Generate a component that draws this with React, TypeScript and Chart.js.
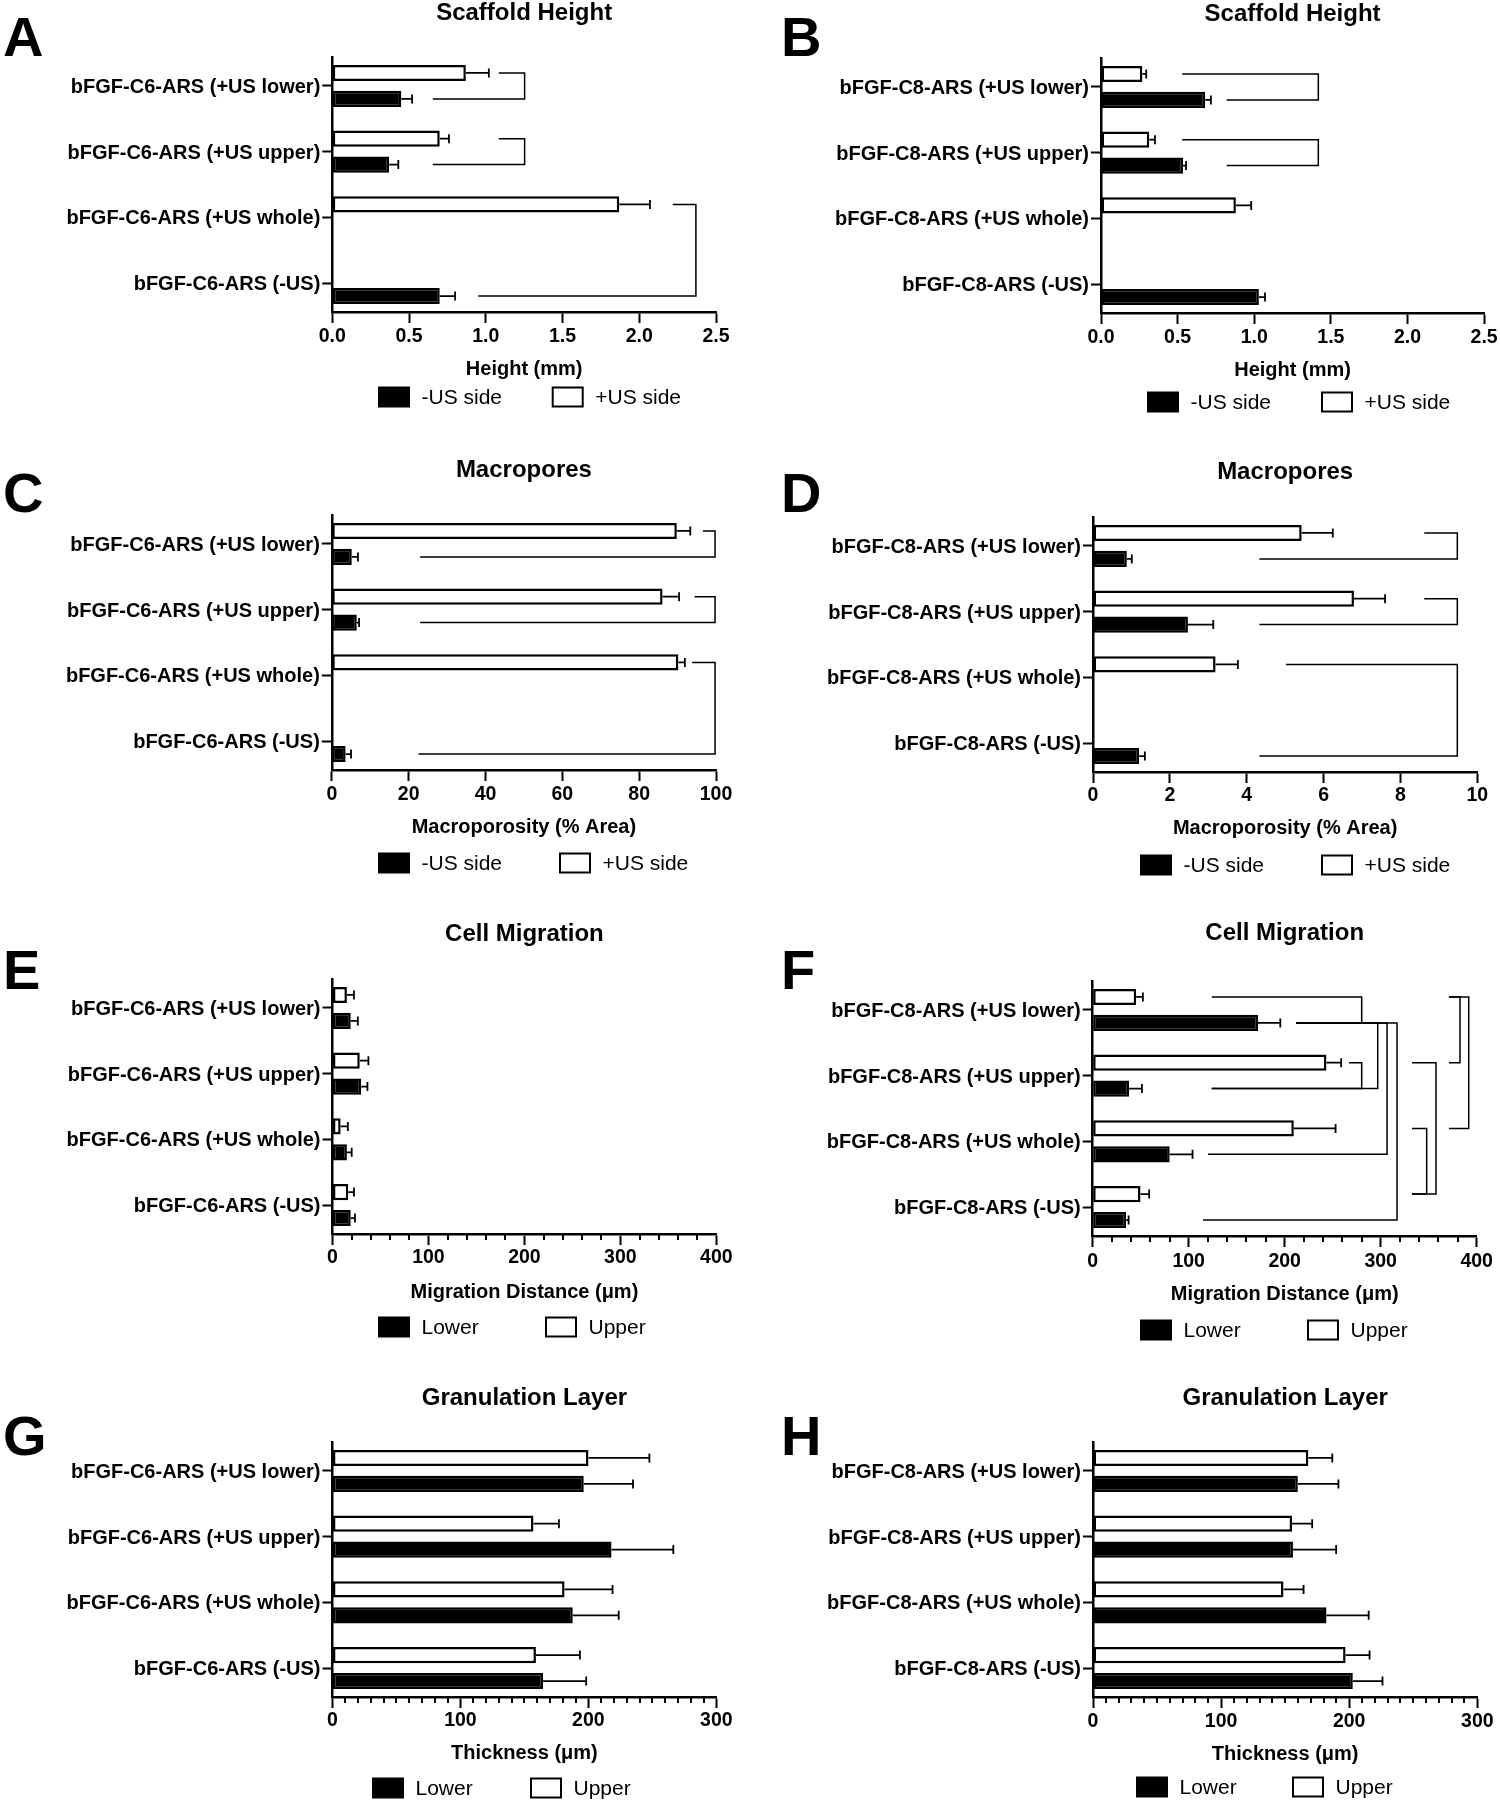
import React, { useEffect, useRef } from 'react';
import { Chart, registerables } from 'chart.js';

Chart.register(...registerables);

const FONT = '"Liberation Sans", Arial, Helvetica, sans-serif';
Chart.defaults.font.family = FONT;
Chart.defaults.color = '#000';

// ---------------- categories & series names ----------------
const catsC6 = ['bFGF-C6-ARS (+US lower)', 'bFGF-C6-ARS (+US upper)', 'bFGF-C6-ARS (+US whole)', 'bFGF-C6-ARS (-US)'];
const catsC8 = ['bFGF-C8-ARS (+US lower)', 'bFGF-C8-ARS (+US upper)', 'bFGF-C8-ARS (+US whole)', 'bFGF-C8-ARS (-US)'];
const sideNames = ['+US side', '-US side'];
const layerNames = ['Upper', 'Lower'];

// ---------------- A: Scaffold height C6 (mm) ----------------
const heightC6Plus = [0.87, 0.70, 1.87, null];
const heightC6PlusErr = [0.15, 0.06, 0.20, null];
const heightC6Minus = [0.45, 0.37, null, 0.70];
const heightC6MinusErr = [0.07, 0.06, null, 0.10];
// [cat1, series1, armStart1, cat2, series2, armStart2, bracketX]
const heightC6Brackets = [
  [0, 0, 1.085, 0, 1, 0.655, 1.253],
  [1, 0, 1.085, 1, 1, 0.655, 1.253],
  [2, 0, 2.218, 3, 1, 0.951, 2.369],
];

// ---------------- B: Scaffold height C8 (mm) ----------------
const heightC8Plus = [0.27, 0.315, 0.88, null];
const heightC8PlusErr = [0.025, 0.037, 0.10, null];
const heightC8Minus = [0.68, 0.535, null, 1.03];
const heightC8MinusErr = [0.037, 0.02, null, 0.04];
const heightC8Brackets = [
  [0, 0, 0.53, 0, 1, 0.82, 1.418],
  [1, 0, 0.53, 1, 1, 0.82, 1.418],
];

// ---------------- C: Macropores C6 (% area) ----------------
const poreC6Plus = [89.8, 86.1, 90.2, null];
const poreC6PlusErr = [3.5, 4.3, 1.7, null];
const poreC6Minus = [5.2, 6.5, null, 3.6];
const poreC6MinusErr = [1.6, 0.6, null, 1.4];
const poreC6Brackets = [
  [0, 0, 96.6, 0, 1, 23.0, 99.75],
  [1, 0, 94.4, 1, 1, 23.0, 99.75],
  [2, 0, 93.8, 3, 1, 22.6, 99.75],
];

// ---------------- D: Macropores C8 (% area) ----------------
const poreC8Plus = [5.43, 6.79, 3.19, null];
const poreC8PlusErr = [0.81, 0.81, 0.58, null];
const poreC8Minus = [0.88, 2.47, null, 1.20];
const poreC8MinusErr = [0.13, 0.66, null, 0.15];
const poreC8Brackets = [
  [0, 0, 8.62, 0, 1, 4.33, 9.48],
  [1, 0, 8.62, 1, 1, 4.33, 9.48],
  [2, 0, 5.02, 3, 1, 4.33, 9.48],
];

// ---------------- E: Cell migration C6 (um) ----------------
const migC6Upper = [15.0, 28.4, 8.5, 16.5];
const migC6UpperErr = [7.4, 9.0, 7.5, 5.9];
const migC6Lower = [19.0, 29.9, 15.0, 19.0];
const migC6LowerErr = [7.4, 6.5, 5.0, 4.4];

// ---------------- F: Cell migration C8 (um) ----------------
const migC8Upper = [45.3, 243.5, 209.5, 49.8];
const migC8UpperErr = [7.0, 15.3, 43.5, 9.0];
const migC8Lower = [172.2, 37.9, 80.2, 34.9];
const migC8LowerErr = [23.2, 13.4, 23.8, 2.5];
const migC8Brackets = [
  [0, 0, 124.0, 0, 1, 211.8, 280.2],
  [1, 0, 267.0, 1, 1, 124.0, 280.2],
  [0, 1, 211.8, 1, 1, 124.0, 296.9],
  [0, 1, 211.8, 2, 1, 120.1, 306.6],
  [0, 1, 211.8, 3, 1, 114.9, 317.0],
  [0, 0, 371.1, 1, 0, 371.1, 382.6],
  [0, 0, 371.1, 2, 0, 371.1, 391.7],
  [1, 0, 332.6, 3, 0, 332.6, 357.6],
  [2, 0, 332.6, 3, 0, 332.6, 347.9],
];

// ---------------- G: Granulation layer C6 (um) ----------------
const granC6Upper = [200.1, 157.1, 181.4, 159.0];
const granC6UpperErr = [47.6, 19.9, 37.5, 34.4];
const granC6Lower = [196.4, 218.1, 187.8, 164.6];
const granC6LowerErr = [38.5, 48.3, 35.9, 33.7];

// ---------------- H: Granulation layer C8 (um) ----------------
const granC8Upper = [168.1, 155.4, 148.7, 197.2];
const granC8UpperErr = [18.7, 15.7, 15.7, 18.7];
const granC8Lower = [159.9, 156.1, 182.3, 202.8];
const granC8LowerErr = [31.7, 33.7, 32.9, 23.2];

// ---------------- x axis ranges ----------------
const heightAxis = { min: 0, max: 2.5, step: 0.5, major: 0.5, decimals: 1 };
const poreC6Axis = { min: 0, max: 100, step: 20, major: 20, decimals: 0 };
const poreC8Axis = { min: 0, max: 10, step: 2, major: 2, decimals: 0 };
const migAxis = { min: 0, max: 400, step: 20, major: 100, decimals: 0 };
const granAxis = { min: 0, max: 300, step: 10, major: 100, decimals: 0 };

// ---------------- page layout (pixel positions of each panel) ----------------
// ox: panel x origin, tc: title centre y, pt: plot top, ay: x-axis y, ax: y-axis x, ar: x-axis right end,
// tk: tick label centre y, xt: axis title centre y, lc: legend centre y, lx1/lx2: legend box left x, lb: letter baseline
const LAYOUT: Record<string, any> = {
  A: { ox: 0, tc: 13, pt: 57, ay: 312, ax: 332.3, ar: 716, tk: 336.5, xt: 369, lc: 397, lx1: 378, lx2: 551.7, lb: 56 },
  B: { ox: 750, tc: 14, pt: 58, ay: 313, ax: 1101, ar: 1485, tk: 338, xt: 370, lc: 402, lx1: 1147, lx2: 1321, lb: 56 },
  C: { ox: 0, tc: 470, pt: 515, ay: 770, ax: 331.8, ar: 716, tk: 795, xt: 827, lc: 863, lx1: 378, lx2: 559, lb: 512 },
  D: { ox: 750, tc: 472, pt: 517, ay: 772, ax: 1093, ar: 1477.3, tk: 796, xt: 828, lc: 865, lx1: 1140, lx2: 1321, lb: 512 },
  E: { ox: 0, tc: 934, pt: 979, ay: 1234, ax: 332.5, ar: 716.3, tk: 1258, xt: 1292, lc: 1327, lx1: 378, lx2: 545, lb: 989 },
  F: { ox: 750, tc: 933, pt: 981, ay: 1236, ax: 1092.7, ar: 1476.7, tk: 1262, xt: 1294, lc: 1330, lx1: 1140, lx2: 1307, lb: 989 },
  G: { ox: 0, tc: 1398, pt: 1442, ay: 1697, ax: 332.5, ar: 716.3, tk: 1721, xt: 1753, lc: 1788, lx1: 372, lx2: 530, lb: 1455 },
  H: { ox: 750, tc: 1398, pt: 1442, ay: 1697, ax: 1093, ar: 1477.3, tk: 1722, xt: 1754, lc: 1787, lx1: 1136, lx2: 1292, lb: 1455 },
};

type Spec = {
  key: string; title: string; cats: string[]; names: string[];
  white: (number | null)[]; whiteErr: (number | null)[];
  black: (number | null)[]; blackErr: (number | null)[];
  xTitle: string; axis: { min: number; max: number; step: number; major: number; decimals: number };
  brackets: number[][];
};

const PANELS: Spec[] = [
  { key: 'A', title: 'Scaffold Height', cats: catsC6, names: sideNames, white: heightC6Plus, whiteErr: heightC6PlusErr, black: heightC6Minus, blackErr: heightC6MinusErr, xTitle: 'Height (mm)', axis: heightAxis, brackets: heightC6Brackets },
  { key: 'B', title: 'Scaffold Height', cats: catsC8, names: sideNames, white: heightC8Plus, whiteErr: heightC8PlusErr, black: heightC8Minus, blackErr: heightC8MinusErr, xTitle: 'Height (mm)', axis: heightAxis, brackets: heightC8Brackets },
  { key: 'C', title: 'Macropores', cats: catsC6, names: sideNames, white: poreC6Plus, whiteErr: poreC6PlusErr, black: poreC6Minus, blackErr: poreC6MinusErr, xTitle: 'Macroporosity (% Area)', axis: poreC6Axis, brackets: poreC6Brackets },
  { key: 'D', title: 'Macropores', cats: catsC8, names: sideNames, white: poreC8Plus, whiteErr: poreC8PlusErr, black: poreC8Minus, blackErr: poreC8MinusErr, xTitle: 'Macroporosity (% Area)', axis: poreC8Axis, brackets: poreC8Brackets },
  { key: 'E', title: 'Cell Migration', cats: catsC6, names: layerNames, white: migC6Upper, whiteErr: migC6UpperErr, black: migC6Lower, blackErr: migC6LowerErr, xTitle: 'Migration Distance (\u03bcm)', axis: migAxis, brackets: [] },
  { key: 'F', title: 'Cell Migration', cats: catsC8, names: layerNames, white: migC8Upper, whiteErr: migC8UpperErr, black: migC8Lower, blackErr: migC8LowerErr, xTitle: 'Migration Distance (\u03bcm)', axis: migAxis, brackets: migC8Brackets },
  { key: 'G', title: 'Granulation Layer', cats: catsC6, names: layerNames, white: granC6Upper, whiteErr: granC6UpperErr, black: granC6Lower, blackErr: granC6LowerErr, xTitle: 'Thickness (\u03bcm)', axis: granAxis, brackets: [] },
  { key: 'H', title: 'Granulation Layer', cats: catsC8, names: layerNames, white: granC8Upper, whiteErr: granC8UpperErr, black: granC8Lower, blackErr: granC8LowerErr, xTitle: 'Thickness (\u03bcm)', axis: granAxis, brackets: [] },
];

const isMajor = (v: number, m: number) => Math.abs(v / m - Math.round(v / m)) < 1e-6;

// Prism-style category spacing: first/last category centre sits 0.44 slot from the axis ends
const categoryInsetPlugin = {
  id: 'categoryInset',
  afterLayout(chart: any) {
    const s = chart.scales.y;
    if (!s) return;
    const n = s.getLabels().length;
    const off = 0.44;
    s._startValue = -off;
    s._valueRange = n - 1 + 2 * off;
  },
};

const errorBarPlugin = {
  id: 'errorBars',
  afterDatasetsDraw(chart: any) {
    const ctx = chart.ctx;
    const xs = chart.scales.x;
    ctx.save();
    ctx.strokeStyle = '#000';
    ctx.lineWidth = 1.8;
    chart.data.datasets.forEach((ds: any, i: number) => {
      const errs = ds.errors;
      if (!errs) return;
      const meta = chart.getDatasetMeta(i);
      meta.data.forEach((el: any, j: number) => {
        const v = ds.data[j];
        const e = errs[j];
        if (v == null || e == null) return;
        const x0 = xs.getPixelForValue(v);
        const x1 = xs.getPixelForValue(v + e);
        const y = el.y;
        ctx.beginPath();
        ctx.moveTo(x0, y);
        ctx.lineTo(x1, y);
        ctx.moveTo(x1, y - 4.5);
        ctx.lineTo(x1, y + 4.5);
        ctx.stroke();
      });
    });
    ctx.restore();
  },
};

const makeBracketPlugin = (list: number[][]) => ({
  id: 'brackets',
  afterDatasetsDraw(chart: any) {
    if (!list.length) return;
    const ctx = chart.ctx;
    const xs = chart.scales.x;
    ctx.save();
    ctx.strokeStyle = '#000';
    ctx.lineWidth = 1.5;
    list.forEach(([c1, s1, a1, c2, s2, a2, xv]) => {
      const y1 = chart.getDatasetMeta(s1).data[c1].y;
      const y2 = chart.getDatasetMeta(s2).data[c2].y;
      const pv = xs.getPixelForValue(xv);
      ctx.beginPath();
      ctx.moveTo(xs.getPixelForValue(a1), y1);
      ctx.lineTo(pv, y1);
      ctx.lineTo(pv, y2);
      ctx.lineTo(xs.getPixelForValue(a2), y2);
      ctx.stroke();
    });
    ctx.restore();
  },
});

const makeMinorTickPlugin = (major: number) => ({
  id: 'minorTicks',
  afterDraw(chart: any) {
    const s = chart.scales.x;
    const ctx = chart.ctx;
    const y0 = chart.chartArea.bottom;
    ctx.save();
    ctx.strokeStyle = '#000';
    ctx.lineWidth = 2;
    s.ticks.forEach((t: any) => {
      if (isMajor(t.value, major)) return;
      const x = Math.round(s.getPixelForValue(t.value));
      ctx.beginPath();
      ctx.moveTo(x, y0);
      ctx.lineTo(x, y0 + 6);
      ctx.stroke();
    });
    ctx.restore();
  },
});

const makeLegendPlugin = (L: any, top: number) => ({
  id: 'panelLegend',
  afterDraw(chart: any) {
    const ctx = chart.ctx;
    const ds = chart.data.datasets;
    const order = [1, 0];
    const xs = [L.lx1 - L.ox + 1, L.lx2 - L.ox + 1];
    const cy = L.lc - top;
    ctx.save();
    order.forEach((di, k) => {
      const d = ds[di];
      const x = xs[k];
      ctx.fillStyle = d.backgroundColor;
      ctx.strokeStyle = d.borderColor;
      ctx.lineWidth = 2;
      ctx.fillRect(x, cy - 9.5, 30, 19);
      ctx.strokeRect(x, cy - 9.5, 30, 19);
      ctx.fillStyle = '#000';
      ctx.font = `21px ${FONT}`;
      ctx.textBaseline = 'middle';
      ctx.textAlign = 'left';
      ctx.fillText(d.label, x + 42.5, cy + 1);
    });
    ctx.restore();
  },
});

function Panel({ spec }: { spec: Spec }) {
  const ref = useRef<HTMLCanvasElement>(null);
  const L = LAYOUT[spec.key];
  const top = L.tc - 20;
  const W = 750;
  const H = Math.round(L.lc + 24 - top);

  useEffect(() => {
    const canvas = ref.current!;
    const ax = spec.axis;
    const minor = ax.step !== ax.major;
    const tl = 11;
    const hx = L.xt - L.ay + 16;
    const padBottom = H - (L.ay - top) - hx;
    const tickPad = (L.tk - L.ay) - tl - 0.6 * 19.5;
    const xTitlePad = L.ay + hx - 12 - L.xt;

    const common = {
      borderColor: '#000',
      borderWidth: 2.5,
      borderSkipped: false,
      categoryPercentage: 0.79,
      barPercentage: 0.62,
    };

    const chart = new Chart(canvas, {
      type: 'bar',
      data: {
        labels: spec.cats,
        datasets: [
          { label: spec.names[0], data: spec.white, errors: spec.whiteErr, backgroundColor: '#ffffff', ...common } as any,
          { label: spec.names[1], data: spec.black, errors: spec.blackErr, backgroundColor: '#000000', ...common } as any,
        ],
      },
      options: {
        indexAxis: 'y',
        responsive: false,
        maintainAspectRatio: false,
        animation: false,
        devicePixelRatio: 1,
        layout: { padding: { left: 0, right: W - (L.ar - L.ox), top: 0, bottom: padBottom } },
        plugins: {
          legend: { display: false },
          tooltip: { enabled: false },
          title: {
            display: true,
            text: spec.title,
            fullSize: false,
            color: '#000',
            font: { family: FONT, size: 24, weight: 'bold' },
            padding: { top: L.tc - top - 14.4, bottom: L.pt - L.tc - 14.4 },
          },
        },
        scales: {
          x: {
            type: 'linear',
            position: 'bottom',
            min: ax.min,
            max: ax.max,
            afterFit: (s: any) => { s.height = hx; },
            border: { display: true, color: '#000', width: 2.5 },
            grid: {
              display: true,
              drawOnChartArea: false,
              drawTicks: true,
              tickLength: tl,
              tickWidth: 2,
              tickColor: (c: any) => (c.tick && isMajor(c.tick.value, ax.major) ? '#000' : 'rgba(0,0,0,0)'),
            },
            ticks: {
              stepSize: ax.step,
              autoSkip: false,
              maxRotation: 0,
              minRotation: 0,
              padding: tickPad,
              color: '#000',
              font: { family: FONT, size: 19.5, weight: 'bold' },
              callback: (v: any) => (isMajor(Number(v), ax.major) ? Number(v).toFixed(ax.decimals) : ''),
            },
            title: {
              display: true,
              text: spec.xTitle,
              color: '#000',
              font: { family: FONT, size: 20, weight: 'bold' },
              padding: { top: 0, bottom: xTitlePad },
            },
          },
          y: {
            type: 'category',
            position: 'left',
            offset: true,
            afterFit: (s: any) => { s.width = L.ax - L.ox; },
            border: { display: true, color: '#000', width: 2.5 },
            grid: {
              display: true,
              offset: false,
              drawOnChartArea: false,
              drawTicks: true,
              tickLength: 10,
              tickWidth: 2,
              tickColor: '#000',
            },
            ticks: {
              autoSkip: false,
              padding: 2,
              labelOffset: 1.5,
              color: '#000',
              font: { family: FONT, size: 20, weight: 'bold' },
            },
          },
        },
      } as any,
      plugins: [
        categoryInsetPlugin,
        errorBarPlugin,
        makeBracketPlugin(spec.brackets),
        ...(minor ? [makeMinorTickPlugin(ax.major)] : []),
        makeLegendPlugin(L, top),
      ] as any,
    });
    return () => chart.destroy();
  }, []);

  return (
    <>
      <canvas
        ref={ref}
        width={W}
        height={H}
        style={{ position: 'absolute', left: L.ox, top, width: W, height: H }}
      />
      <div
        style={{
          position: 'absolute',
          left: L.ox === 0 ? 3 : 781,
          top: L.lb - 47.4,
          fontFamily: FONT,
          fontWeight: 'bold',
          fontSize: 56,
          lineHeight: '56px',
          color: '#000',
        }}
      >
        {spec.key}
      </div>
    </>
  );
}

export default function App() {
  return (
    <div
      style={{
        position: 'absolute',
        left: 0,
        top: 0,
        width: 1500,
        height: 1801,
        overflow: 'hidden',
        background: '#fff',
      }}
    >
      {PANELS.map((p) => (
        <Panel key={p.key} spec={p} />
      ))}
    </div>
  );
}
